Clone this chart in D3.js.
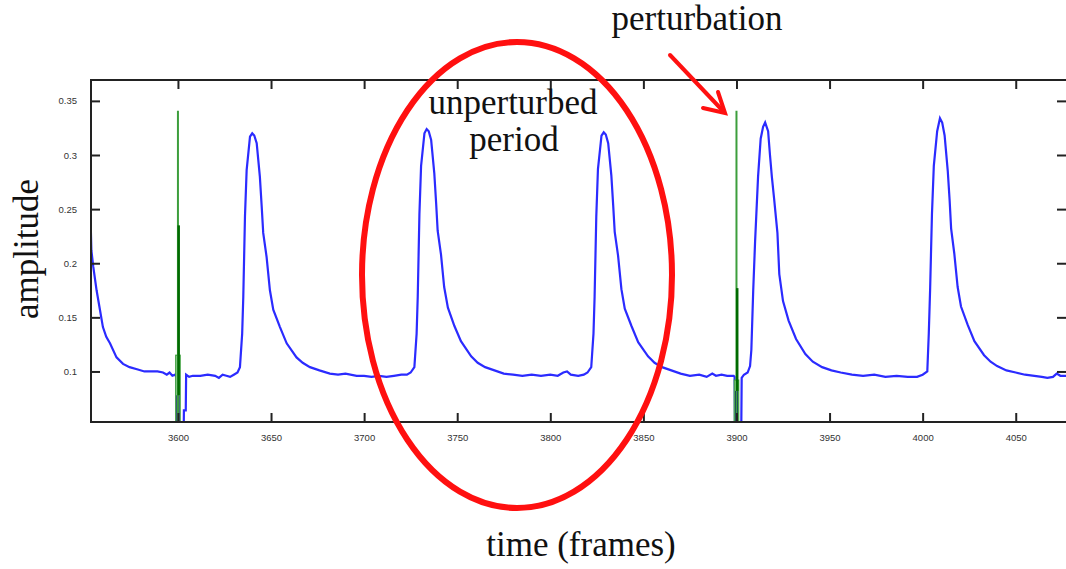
<!DOCTYPE html>
<html>
<head>
<meta charset="utf-8">
<script src="https://cdn.jsdelivr.net/npm/d3@7/dist/d3.min.js"></script>
<style>
  html, body { margin: 0; padding: 0; background: #fff; }
  svg { display: block; }
</style>
</head>
<body>
<svg id="chart" width="1066" height="569"></svg>
<script>
// ---------------- data ----------------
const xTicks = [3600, 3650, 3700, 3750, 3800, 3850, 3900, 3950, 4000, 4050];
const yTicks = [0.1, 0.15, 0.2, 0.25, 0.3, 0.35];

// blue signal: frame numbers and amplitude
const signalFrames = [
  3553, 3553.5, 3554.5, 3556.3, 3558.1, 3559.7, 3561.5, 3563.5, 3567, 3570.5, 3574, 3578, 3582, 3586, 3589, 3592, 3594, 3595.5, 3597, 3598.5, 3599.3,
  3599.6, 3603, 3603.2, 3604.2, 3604.4, 3606, 3608, 3612, 3616, 3620, 3622, 3624, 3626, 3628, 3630, 3632,
  3633.3, 3634.5, 3635.1, 3636, 3636.9, 3638.7, 3639.9, 3641, 3642.3, 3644, 3645, 3645.8, 3647.6, 3649.4, 3651.2, 3654.8, 3658.4, 3663.7, 3667, 3670.9, 3676, 3681.6,
  3686, 3690, 3696, 3700, 3704, 3708, 3712, 3716, 3720, 3723, 3725,
  3727, 3728.2, 3728.8, 3729.7, 3730.6, 3732.4, 3733.6, 3734.7, 3736, 3737.7, 3738.7, 3739.5, 3741.3, 3743, 3745, 3748.5, 3752, 3757.5, 3761, 3765, 3770, 3775,
  3780, 3785, 3790, 3795, 3800, 3804, 3807, 3809, 3811, 3815, 3818, 3820,
  3822, 3823.2, 3823.8, 3824.7, 3825.6, 3827.5, 3828.7, 3829.8, 3831.1, 3832.8, 3833.8, 3834.6, 3836.4, 3838.2, 3840, 3843.6, 3847.2, 3852.5, 3856, 3860, 3865, 3870,
  3875, 3880, 3884, 3887, 3889, 3892, 3895, 3898.5, 3899,
  3899.3, 3902.5, 3902.8, 3904, 3906,
  3907.3, 3908, 3909, 3910, 3911.6, 3913, 3914.3, 3915.4, 3917, 3918, 3919, 3920.2, 3922, 3923, 3925, 3928, 3932, 3937, 3941, 3946, 3951, 3956,
  3962, 3968, 3974, 3980, 3986, 3992, 3997, 4000,
  4002.5, 4003.3, 4004, 4005, 4006, 4007.8, 4009.3, 4010.5, 4011.8, 4013.5, 4014.5, 4015.3, 4017, 4018.8, 4020.6, 4024.2, 4027.8, 4033, 4036.5, 4040, 4045, 4050,
  4055, 4060, 4064, 4067, 4070, 4072, 4074, 4077
];
const signalAmp = [
  0.246, 0.212, 0.197, 0.175, 0.157, 0.141, 0.132, 0.126, 0.113, 0.107, 0.104, 0.102, 0.100, 0.100, 0.100, 0.099, 0.097, 0.099, 0.096, 0.097, 0.095,
  0.030, 0.030, 0.064, 0.064, 0.097, 0.095, 0.096, 0.096, 0.097, 0.096, 0.094, 0.097, 0.096, 0.095, 0.097, 0.099,
  0.104, 0.135, 0.169, 0.243, 0.286, 0.317, 0.320, 0.318, 0.311, 0.280, 0.252, 0.228, 0.206, 0.175, 0.157, 0.141, 0.126, 0.113, 0.108, 0.104, 0.101, 0.098,
  0.097, 0.098, 0.096, 0.096, 0.095, 0.096, 0.095, 0.096, 0.097, 0.097, 0.099,
  0.104, 0.135, 0.169, 0.245, 0.290, 0.320, 0.324, 0.322, 0.314, 0.283, 0.255, 0.230, 0.208, 0.178, 0.159, 0.142, 0.128, 0.114, 0.108, 0.104, 0.101, 0.098,
  0.097, 0.096, 0.097, 0.096, 0.097, 0.096, 0.099, 0.100, 0.097, 0.096, 0.097, 0.099,
  0.104, 0.135, 0.169, 0.243, 0.287, 0.318, 0.321, 0.319, 0.311, 0.281, 0.253, 0.229, 0.207, 0.176, 0.158, 0.142, 0.127, 0.114, 0.108, 0.104, 0.101, 0.098,
  0.096, 0.097, 0.095, 0.098, 0.096, 0.097, 0.096, 0.096, 0.095,
  0.030, 0.030, 0.094, 0.097, 0.099,
  0.105, 0.120, 0.175, 0.220, 0.280, 0.315, 0.326, 0.330, 0.322, 0.300, 0.280, 0.260, 0.228, 0.190, 0.165, 0.147, 0.130, 0.116, 0.109, 0.104, 0.101, 0.099,
  0.097, 0.096, 0.097, 0.095, 0.096, 0.095, 0.095, 0.097,
  0.100, 0.135, 0.175, 0.245, 0.290, 0.322, 0.334, 0.330, 0.318, 0.285, 0.258, 0.232, 0.209, 0.178, 0.160, 0.143, 0.128, 0.115, 0.109, 0.105, 0.101, 0.099,
  0.097, 0.096, 0.095, 0.094, 0.095, 0.098, 0.096, 0.096
];

// green perturbation pulses
const perturbFrames = [3600, 3900];
const pulseTop = [0.341, 0.341];   // light green spike
const pulseMid = [0.235, 0.177];   // dark green spike
const pulseBox = [0.115, 0.092];   // pale green box
const pulseLow = [0.078, 0.082];   // dark blue part

// ---------------- layout ----------------
const svg = d3.select("#chart");
const L = 91, R = 1066, T = 80, B = 422;
const x = d3.scaleLinear().domain([3553.3, 4077]).range([L, R]);
const y = d3.scaleLinear().domain([0.0533, 0.3693]).range([B, T]);
const yMin = y.domain()[0];

svg.append("defs").append("clipPath").attr("id", "plotClip")
  .append("rect").attr("x", L).attr("y", T).attr("width", R - L).attr("height", B - T);

const plot = svg.append("g").attr("clip-path", "url(#plotClip)");

// blue signal
const signal = signalFrames.map((f, i) => [f, signalAmp[i]]);
plot.append("path")
  .datum(signal)
  .attr("fill", "none")
  .attr("stroke", "#2b2bff")
  .attr("stroke-width", 2.2)
  .attr("stroke-linejoin", "miter")
  .attr("d", d3.line().x(d => x(d[0])).y(d => y(d[1])));

// perturbation pulses
perturbFrames.forEach((f, i) => {
  plot.append("rect")
    .attr("x", x(f - 1.2)).attr("y", y(pulseBox[i]))
    .attr("width", x(f + 1.2) - x(f - 1.2)).attr("height", y(yMin) - y(pulseBox[i]))
    .attr("fill", "#a6d9a6").attr("stroke", "#3fa03f").attr("stroke-width", 1.2);
  plot.append("line")
    .attr("x1", x(f)).attr("x2", x(f))
    .attr("y1", y(yMin)).attr("y2", y(pulseLow[i]))
    .attr("stroke", "#00007a").attr("stroke-width", 3);
  plot.append("line")
    .attr("x1", x(f)).attr("x2", x(f))
    .attr("y1", y(yMin)).attr("y2", y(pulseTop[i]))
    .attr("stroke", "#3c9e3c").attr("stroke-width", 2);
  plot.append("line")
    .attr("x1", x(f + 0.4)).attr("x2", x(f + 0.4))
    .attr("y1", y(pulseLow[i])).attr("y2", y(pulseMid[i]))
    .attr("stroke", "#006a00").attr("stroke-width", 2.5);
});

// ---------------- axes ----------------
const axisColor = "#222";
svg.append("rect").attr("x", L).attr("y", T).attr("width", R - L + 4).attr("height", B - T)
  .attr("fill", "none").attr("stroke", axisColor).attr("stroke-width", 2);

const tickLen = 9;
const gxb = svg.append("g").attr("transform", `translate(0,${B})`)
  .call(d3.axisBottom(x).tickValues(xTicks).tickSize(-tickLen).tickPadding(tickLen + 3).tickFormat(d3.format("d")));
const gxt = svg.append("g").attr("transform", `translate(0,${T})`)
  .call(d3.axisTop(x).tickValues(xTicks).tickSize(-tickLen).tickFormat(""));
const gyl = svg.append("g").attr("transform", `translate(${L},0)`)
  .call(d3.axisLeft(y).tickValues(yTicks).tickSize(-tickLen).tickPadding(tickLen + 5).tickFormat(d => d3.format("")(d)));
const gyr = svg.append("g").attr("transform", `translate(${R},0)`)
  .call(d3.axisRight(y).tickValues(yTicks).tickSize(-tickLen).tickFormat(""));

[gxb, gxt, gyl, gyr].forEach(g => {
  g.select(".domain").remove();
  g.selectAll(".tick line").attr("stroke", axisColor).attr("stroke-width", 2);
  g.selectAll(".tick text")
    .attr("fill", "#333")
    .style("font-family", "'Liberation Sans', Arial, sans-serif")
    .style("font-size", "9.5px");
});

// ---------------- annotations ----------------
const serif = "'Liberation Serif', 'Times New Roman', serif";
const txtColor = "#111";
const addText = (t, xx, yy, rot) => svg.append("text")
  .attr("transform", `translate(${xx},${yy})` + (rot ? ` rotate(${rot})` : ""))
  .attr("text-anchor", "middle")
  .style("font-family", serif).style("font-size", "35px").attr("fill", txtColor)
  .text(t);

addText("amplitude", 38, 249, -90);
addText("time (frames)", 581, 556);
addText("perturbation", 697, 30);
addText("unperturbed", 513, 114);
addText("period", 514, 151);

// red ellipse
svg.append("ellipse")
  .attr("cx", 517).attr("cy", 275).attr("rx", 155).attr("ry", 233)
  .attr("fill", "none").attr("stroke", "#ff1010").attr("stroke-width", 6);

// red arrow
const arrow = svg.append("g").attr("stroke", "#ff1010").attr("stroke-width", 4)
  .attr("stroke-linecap", "round").attr("fill", "none");
arrow.append("line").attr("x1", 670).attr("y1", 55).attr("x2", 724).attr("y2", 112);
arrow.append("polyline").attr("points", "718,92 725,113 703,108");
</script>
</body>
</html>
